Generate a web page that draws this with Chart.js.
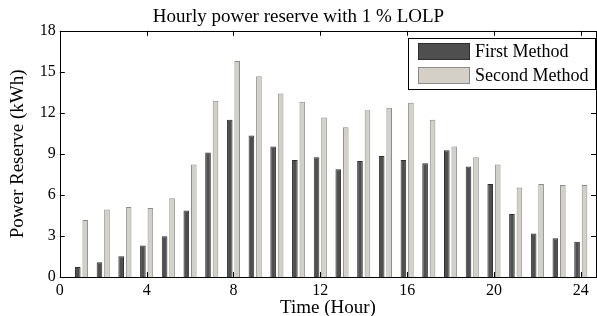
<!DOCTYPE html>
<html>
<head>
<meta charset="utf-8">
<script src="https://cdn.jsdelivr.net/npm/chart.js@4.4.1/dist/chart.umd.min.js"></script>
<style>
  html, body { margin: 0; padding: 0; background: #fff; }
  #wrap { width: 597px; height: 316px; }
</style>
</head>
<body>
<div id="wrap"><canvas id="reserve_graph" width="597" height="316"></canvas></div>
<script>
// hourly reserve values
const hours = [1, 2, 3, 4, 5, 6, 7, 8, 9, 10, 11, 12, 13, 14, 15, 16, 17, 18, 19, 20, 21, 22, 23, 24];
const firstMethod = [0.73, 1.08, 1.52, 2.30, 2.98, 4.87, 9.10, 11.49, 10.34, 9.54, 8.56, 8.75,
  7.87, 8.48, 8.85, 8.56, 8.31, 9.27, 8.07, 6.80, 4.60, 3.18, 2.84, 2.57];
const secondMethod = [4.16, 4.94, 5.11, 5.04, 5.75, 8.22, 12.89, 15.80, 14.67, 13.42, 12.81, 11.66,
  10.95, 12.20, 12.37, 12.74, 11.49, 9.54, 8.75, 8.22, 6.55, 6.80, 6.72, 6.72];
const xTicks = [0, 4, 8, 12, 16, 20, 24];
const yTicks = [0, 3, 6, 9, 12, 15, 18];

const serif = "'Liberation Serif', 'Times New Roman', serif";

function toPoints(values) {
  return hours.map((h, i) => ({x: h, y: values[i]}));
}

// box around the axes + inward ticks like matlab
const framePlugin = {
  id: 'frame',
  afterDraw(chart) {
    const {ctx, chartArea: a, scales} = chart;
    ctx.save();
    ctx.strokeStyle = '#000';
    ctx.lineWidth = 1;
    ctx.strokeRect(Math.round(a.left) + 0.5, Math.round(a.top) + 0.5,
      Math.round(a.right - a.left), Math.round(a.bottom - a.top));
    ctx.beginPath();
    xTicks.forEach(v => {
      const px = Math.round(scales.x.getPixelForValue(v)) + 0.5;
      ctx.moveTo(px, a.bottom); ctx.lineTo(px, a.bottom - 5);
      ctx.moveTo(px, a.top); ctx.lineTo(px, a.top + 5);
    });
    yTicks.forEach(v => {
      const py = Math.round(scales.y.getPixelForValue(v)) + 0.5;
      ctx.moveTo(a.left, py); ctx.lineTo(a.left + 5, py);
      ctx.moveTo(a.right, py); ctx.lineTo(a.right - 5, py);
    });
    ctx.stroke();

    // legend box, top right inside the axes
    const lx = 408, ly = 38, lw = 188, lh = 52;
    ctx.fillStyle = '#fff';
    ctx.fillRect(lx, ly, lw, lh);
    ctx.strokeRect(lx + 0.5, ly + 0.5, lw - 1, lh - 1);
    ctx.font = '18px ' + serif;
    ctx.textBaseline = 'middle';
    chart.data.datasets.forEach((ds, i) => {
      const sy = ly + 5 + i * 24;
      ctx.fillStyle = ds.backgroundColor;
      ctx.fillRect(lx + 10, sy, 52, 17);
      ctx.strokeStyle = ds.borderColor;
      ctx.strokeRect(lx + 10.5, sy + 0.5, 51, 16);
      ctx.fillStyle = '#000';
      ctx.fillText(ds.label, lx + 67, sy + 9.5);
    });
    ctx.restore();
  }
};

new Chart(document.getElementById('reserve_graph'), {
  type: 'bar',
  data: {
    datasets: [{
        label: 'First Method',
        data: toPoints(firstMethod),
        backgroundColor: '#4f4f4f',
        borderColor: '#2e2e2e',
        borderWidth: 1,
        borderSkipped: 'bottom'
      }, {
        label: 'Second Method',
        data: toPoints(secondMethod),
        backgroundColor: '#d4d0c8',
        borderColor: '#8c8c8c',
        borderWidth: 1,
        borderSkipped: 'bottom'
    }]
  },
  options: {
    responsive: false,
    animation: false,
    categoryPercentage: 0.69,
    barPercentage: 0.75,
    layout: {
      padding: {left: 1, right: 1, top: 0, bottom: 2}
    },
    plugins: {
      legend: {display: false},
      tooltip: {enabled: false},
      title: {
        display: true,
        text: 'Hourly power reserve with 1 % LOLP',
        color: '#000',
        font: {family: serif, size: 19, weight: 'normal', lineHeight: 1.2},
        padding: {top: 6, bottom: 2}
      }
    },
    scales: {
      x: {
        type: 'linear',
        min: 0,
        max: 24.7,
        offset: false,
        grid: {display: false, drawTicks: false},
        border: {display: false},
        ticks: {
          stepSize: 4,
          includeBounds: false,
          color: '#000',
          padding: 6,
          maxRotation: 0,
          font: {family: serif, size: 16, lineHeight: 1}
        },
        title: {
          display: true,
          text: 'Time (Hour)',
          color: '#000',
          padding: {top: -6, bottom: -4},
          font: {family: serif, size: 19, lineHeight: 1}
        }
      },
      y: {
        min: 0,
        max: 18,
        grid: {display: false, drawTicks: false},
        border: {display: false},
        ticks: {
          stepSize: 3,
          color: '#000',
          padding: 4,
          font: {family: serif, size: 16}
        },
        title: {
          display: true,
          text: 'Power Reserve (kWh)',
          color: '#000',
          padding: {top: 6, bottom: 6},
          font: {family: serif, size: 19, lineHeight: 1.2}
        }
      }
    }
  },
  plugins: [framePlugin]
});
</script>
</body>
</html>
